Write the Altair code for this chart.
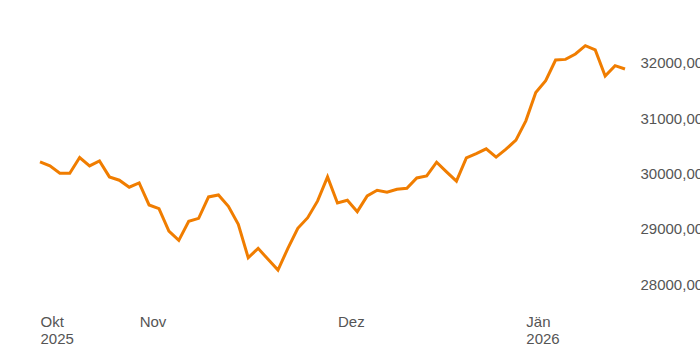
import altair as alt
import pandas as pd

values = [30210, 30137, 30005, 30005, 30288, 30137, 30228, 29939, 29879, 29752,
          29830, 29432, 29365, 28962, 28793, 29137, 29191, 29577, 29613, 29409,
          29083, 28479, 28649, 28450, 28257, 28649, 29011, 29203, 29505, 29939,
          29468, 29517, 29311, 29595, 29698, 29662, 29716, 29734, 29920, 29957,
          30204, 30029, 29861, 30282, 30360, 30445, 30295, 30439, 30602, 30951,
          31463, 31675, 32049, 32060, 32157, 32307, 32230, 31759, 31946, 31886]

tick_index = [0, 10, 30, 49]
tick_line1 = ["Okt", "Nov", "Dez", "Jän"]
tick_line2 = ["2025", "", "", "2026"]
y_ticks = [28000, 29000, 30000, 31000, 32000]

df = pd.DataFrame({"i": list(range(len(values))), "v": values})

parts = []
for t, a, b in zip(tick_index, tick_line1, tick_line2):
    lab = f"['{a}','{b}']" if b else f"'{a}'"
    parts.append(f"datum.value == {t} ? {lab} : ")
label_expr = "".join(parts) + "''"

chart = alt.Chart(df).mark_line(color="#F07D00", strokeWidth=3, strokeJoin="miter").encode(
    x=alt.X("i:Q", scale=alt.Scale(domain=[0, len(values) - 1], nice=False, zero=False),
            axis=alt.Axis(values=tick_index, labelExpr=label_expr, title=None, grid=False,
                          domain=False, ticks=False, labelAlign="left", labelBaseline="top",
                          labelPadding=2, labelFontSize=15, labelLineHeight=17,
                          labelColor="#555555", labelFont="Liberation Sans",
                          labelOverlap=False, labelFlush=False)),
    y=alt.Y("v:Q", scale=alt.Scale(domain=[27500, 32500], nice=False, zero=False),
            axis=alt.Axis(orient="right", values=y_ticks,
                          labelExpr="replace(format(datum.value, '.2f'), '.', ',')",
                          title=None, grid=False, domain=False, ticks=False,
                          labelPadding=15, labelFontSize=15, labelColor="#555555",
                          labelFont="Liberation Sans", labelBaseline="middle",
                          labelOverlap=False, labelFlush=False)),
).properties(
    width=585, height=277,
    autosize=alt.AutoSizeParams(type="none"),
    padding={"left": 40, "top": 35, "right": 75, "bottom": 38},
).configure_view(stroke=None)

chart.save("out.html", embed_options={"renderer": "svg", "actions": False})
